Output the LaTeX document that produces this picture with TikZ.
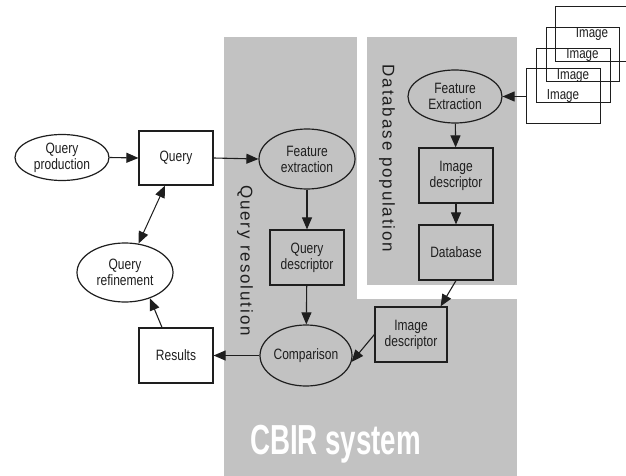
\documentclass[tikz,border=0pt]{standalone}
\usepackage{fontspec}
\usetikzlibrary{shapes.geometric,arrows.meta,calc}
\newfontfamily\nodefont[FakeStretch=0.8]{Liberation Sans}
\newfontfamily\labelfont[LetterSpace=11]{Liberation Sans}
\newfontfamily\cbirfont[FakeStretch=0.66]{Liberation Sans}
\definecolor{panelgray}{HTML}{C2C2C2}
\definecolor{inkc}{HTML}{1E1E1E}
\tikzset{
  basenode/.style={draw=inkc, line width=1.2pt, inner sep=0pt, align=center,
    font=\nodefont\fontsize{15}{16}\selectfont, text=inkc},
  boxnode/.style={basenode, rectangle, minimum width=74pt, minimum height=55pt},
  ovalnode/.style={basenode, ellipse},
  framenode/.style={draw=inkc, line width=1.0pt, rectangle, minimum width=74pt,
    minimum height=55pt, inner sep=0pt, font=\nodefont\fontsize{14.5}{15}\selectfont, text=inkc},
  conn/.style={draw=inkc, line width=1.1pt, -{Triangle[length=12pt,width=10pt]}},
  dconn/.style={draw=inkc, line width=1.0pt, {Triangle[length=12pt,width=10pt]}-{Triangle[length=12pt,width=10pt]}},
  vlabel/.style={rotate=-90, font=\labelfont\fontsize{17}{17}\selectfont, text=inkc, inner sep=0pt}
}
\begin{document}
\begin{tikzpicture}[x=1pt,y=-1pt]
\useasboundingbox (0,0) rectangle (626,476);
\clip (0,0) rectangle (626,476);
% gray panels
\fill[panelgray] (224,37) rectangle (357,476);
\fill[panelgray] (224,299) rectangle (517,476);
\fill[panelgray] (367,37) rectangle (517,285);

% nodes
\node[ovalnode, minimum width=94pt, minimum height=46pt] (qp) at (62,157.5) {Query\\production};
\node[boxnode, minimum height=54pt] (q) at (176,158) {Query};
\node[ovalnode, minimum width=96pt, minimum height=60pt] (fe) at (307,159) {Feature\\extraction};
\node[boxnode] (qd) at (307,257.5) {Query\\descriptor};
\node[ovalnode, minimum width=92pt, minimum height=61pt] (cmp) at (306,355.5) {Comparison};
\node[boxnode] (res) at (176,355.5) {Results};
\node[ovalnode, minimum width=96pt, minimum height=59pt] (qr) at (125,272.5) {Query\\refinement};

\node[ovalnode, minimum width=94pt, minimum height=53pt] (fe2) at (455,96.5) {Feature\\Extraction};
\node[boxnode] (id1) at (456,175.5) {Image\\descriptor};
\node[boxnode] (db) at (456,252.5) {Database};
\node[boxnode, minimum width=72pt] (id2) at (411,334.5) {Image\\descriptor};

% image stack
\node[framenode] (imA) at (592,34.5) {Image};
\node[framenode, minimum width=73pt, minimum height=54pt] (imB) at (582.5,55) {Image};
\node[framenode, minimum height=54pt] (imC) at (573,76) {Image};
\node[framenode] (imD) at (563,96.5) {Image};

% labels
\node[vlabel] (lqr) at (245,260.5) {Query resolution};
\node[vlabel] (ldp) at (387,158.5) {Database population};
\node[text=white, font=\cbirfont\bfseries\fontsize{42}{42}\selectfont, inner sep=0pt, anchor=base] (cbir) at (335.5,454) {CBIR system};

% connectors
\draw[conn] (qp.east) -- (q.west);
\draw[conn] (q.east) -- (fe.west);
\draw[conn] (fe) -- (qd);
\draw[conn] (qd) -- (cmp);
\draw[conn] (cmp.west) -- (res.east);
\draw[conn] ($(res.north)+(-14,0)$) -- (qr.-46);
\draw[dconn] ($(q.south)+(-11,0)$) -- (qr.65.5);
\draw[conn] (imD.west) -- (fe2.east);
\draw[conn] (fe2) -- (id1);
\draw[conn] (id1) -- (db);
\draw[conn] (db.south) -- ($(id2.north east)+(-7,0)$);
\draw[conn] (id2.west) -- (cmp.-8);
\end{tikzpicture}
\end{document}
